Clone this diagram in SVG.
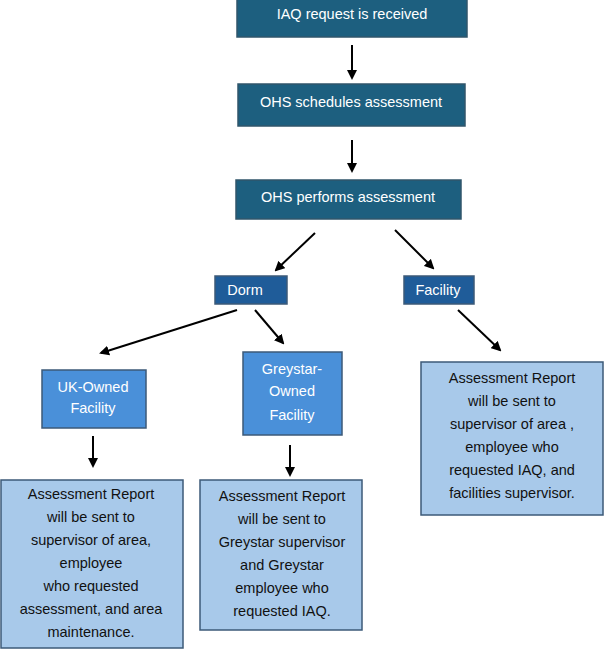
<svg xmlns="http://www.w3.org/2000/svg" width="605" height="650" viewBox="0 0 605 650">
<style>
text{font-family:"Liberation Sans",Arial,sans-serif;font-size:14.5px;text-anchor:middle}
.t{fill:#1d5f7f;stroke:#30566b;stroke-width:1.5}
.d{fill:#1f5c99;stroke:#3c5a78;stroke-width:1.5}
.m{fill:#4a90d9;stroke:#3c5a78;stroke-width:1.5}
.l{fill:#a8c9ea;stroke:#3c5a78;stroke-width:1.5}
.w{fill:#fff}.k{fill:#111}
.c line{stroke:#000;stroke-width:2;marker-end:url(#a)}
</style>
<defs><marker id="a" markerWidth="10" markerHeight="10" refX="8" refY="5" orient="auto" markerUnits="userSpaceOnUse"><path d="M0,0 L10,5 L0,10 z" fill="#000"/></marker></defs>
<rect width="605" height="650" fill="#fff"/>
<g id="n1"><rect class="t" x="237" y="-2" width="230" height="39"/><text class="w" x="352" y="19">IAQ request is received</text></g>
<g id="n2"><rect class="t" x="238" y="84" width="227" height="42"/><text class="w" x="351" y="107">OHS schedules assessment</text></g>
<g id="n3"><rect class="t" x="236" y="180" width="225" height="39"/><text class="w" x="348" y="202">OHS performs assessment</text></g>
<g id="dorm"><rect class="d" x="215" y="276" width="72" height="28"/><text class="w" x="245" y="295">Dorm</text></g>
<g id="facility"><rect class="d" x="404" y="276" width="70" height="28"/><text class="w" x="438" y="295">Facility</text></g>
<g id="uk"><rect class="m" x="42" y="370" width="104" height="58"/><text class="w" x="93" y="392">UK-Owned</text><text class="w" x="93" y="413">Facility</text></g>
<g id="grey"><rect class="m" x="243" y="352" width="99" height="83"/><text class="w" x="292" y="374">Greystar-</text><text class="w" x="292" y="396">Owned</text><text class="w" x="292" y="420">Facility</text></g>
<g id="r1"><rect class="l" x="1" y="480" width="182" height="168"/>
<text class="k" x="91" y="499">Assessment Report</text><text class="k" x="91" y="522">will be sent to</text><text class="k" x="91" y="545">supervisor of area,</text><text class="k" x="91" y="568">employee</text><text class="k" x="91" y="591">who  requested</text><text class="k" x="91" y="614">assessment, and area</text><text class="k" x="91" y="637">maintenance.</text></g>
<g id="r2"><rect class="l" x="200" y="480" width="162" height="150"/>
<text class="k" x="282" y="501">Assessment Report</text><text class="k" x="282" y="524">will be sent to</text><text class="k" x="282" y="547">Greystar supervisor</text><text class="k" x="282" y="570">and Greystar</text><text class="k" x="282" y="593">employee who</text><text class="k" x="282" y="616">requested IAQ.</text></g>
<g id="r3"><rect class="l" x="421" y="362" width="182" height="153"/>
<text class="k" x="512" y="383">Assessment Report</text><text class="k" x="512" y="406">will be sent to</text><text class="k" x="512" y="429">supervisor of area ,</text><text class="k" x="512" y="452">employee who</text><text class="k" x="512" y="475">requested IAQ, and</text><text class="k" x="512" y="498">facilities supervisor.</text></g>
<g class="c">
<line x1="352" y1="45" x2="352" y2="78"/>
<line x1="352" y1="140" x2="352" y2="171"/>
<line x1="315" y1="233" x2="276" y2="270"/>
<line x1="395" y1="230" x2="433" y2="268"/>
<line x1="237" y1="310" x2="101" y2="353"/>
<line x1="255" y1="310" x2="283" y2="343"/>
<line x1="458" y1="310" x2="500" y2="350"/>
<line x1="93" y1="436" x2="93" y2="466"/>
<line x1="290" y1="445" x2="290" y2="475"/>
</g>
</svg>
